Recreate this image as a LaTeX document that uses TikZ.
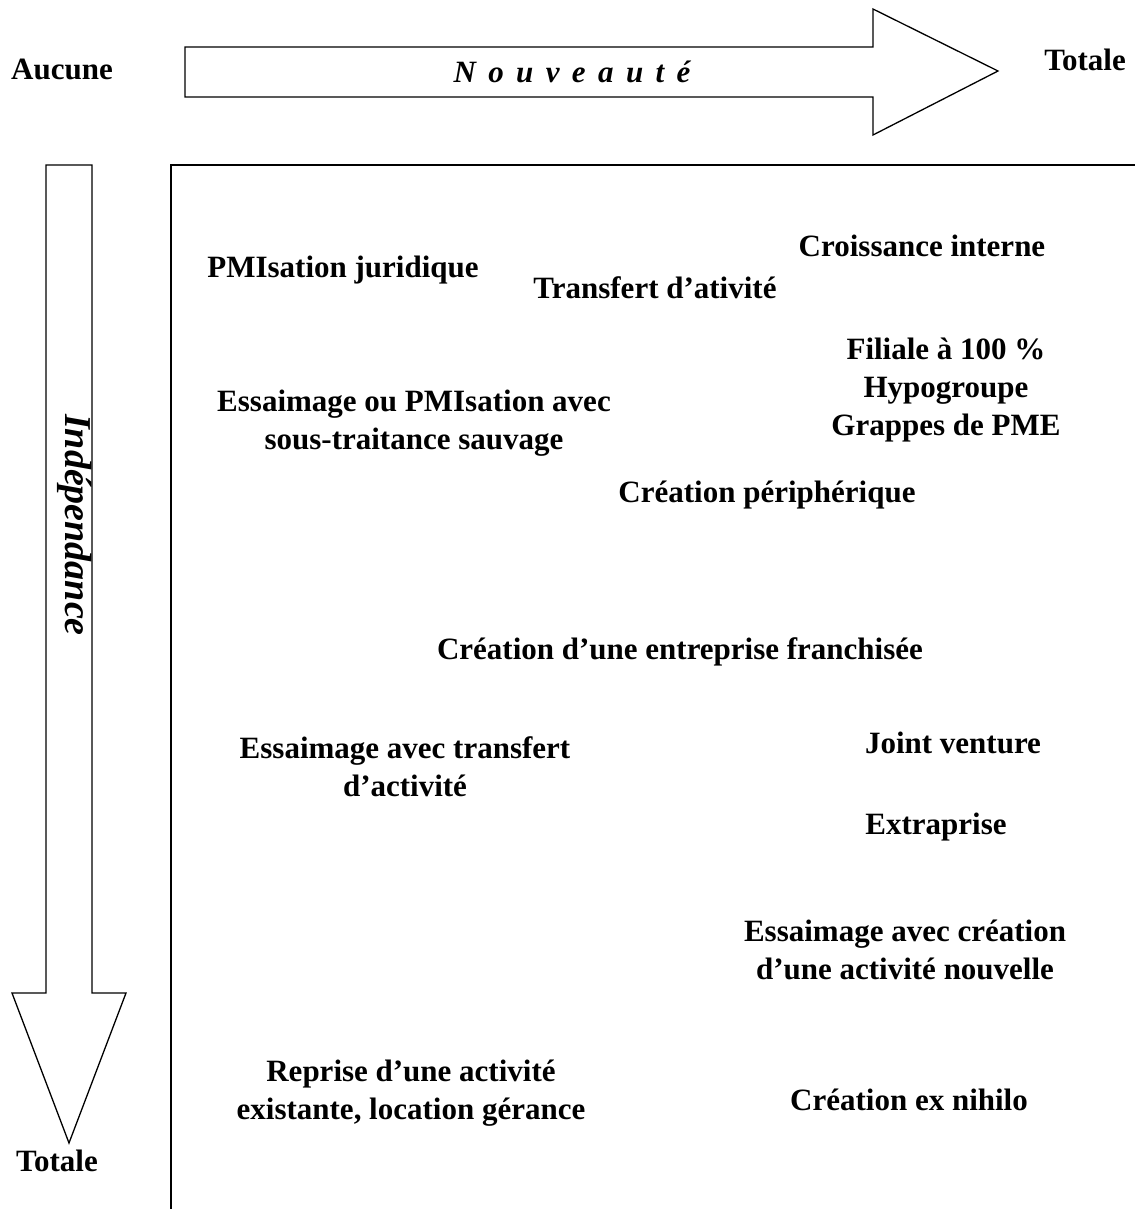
\documentclass[tikz,border=0pt]{standalone}
\usepackage{fontspec}
\setmainfont{Liberation Serif}
\usetikzlibrary{positioning}

\begin{document}
\begin{tikzpicture}[x=1pt, y=-1pt,
 lbl/.style = {font=\bfseries\fontsize{31}{38}\selectfont, align=center, inner sep=0pt},
 axlbl/.style = {font=\bfseries\itshape\fontsize{31}{38}\selectfont, inner sep=0pt},
 bigarrow/.style = {draw, line width=1.3pt, line join=miter, fill=white},
 frame/.style = {draw, line width=1.3pt},
                        ]
    \useasboundingbox (0,0) rectangle (1135,1209);

    % axis of novelty
    \draw [bigarrow] (185,47) -- (873,47) -- (873,9) -- (998,71)
          -- (873,135) -- (873,97) -- (185,97) -- cycle;
    \node [axlbl] (nouv) at (572,72) {\spaceskip 0.4em\relax N o u v e a u t é};
    \node [lbl] (aucune) at (62,69) {Aucune};
    \node [lbl] (totH) at (1085,60) {Totale};

    % axis of independence
    \draw [bigarrow] (46,165) -- (92,165) -- (92,993) -- (126,993)
          -- (69,1143) -- (12,993) -- (46,993) -- cycle;
    \node [axlbl, font=\bfseries\itshape\fontsize{38}{44}\selectfont, rotate=-90] (indep) at (75,525) {Indépendance};
    \node [lbl] (totV) at (57,1161) {Totale};

    % frame of the map
    \draw [frame] (171,1209) -- (171,165) -- (1135,165);

    % forms of creation
    \node [lbl] (pmij) at (343,270) {PMIsation juridique};
    \node [lbl] (transf) at (655,288) {Transfert d’ativité};
    \node [lbl] (crois) at (922,246) {Croissance interne};
    \node [lbl] (filiale) at (946,390) {Filiale à 100 \%\\Hypogroupe\\Grappes de PME};
    \node [lbl] (essPMI) at (414,423) {Essaimage ou PMIsation avec\\sous-traitance sauvage};
    \node [lbl] (creaper) at (767,495) {Création périphérique};
    \node [lbl] (franch) at (680,652) {Création d’une entreprise franchisée};
    \node [lbl] (esstransf) at (405,767) {Essaimage avec transfert\\d’activité};
    \node [lbl] (joint) at (953,743) {Joint venture};
    \node [lbl] (extra) at (936,827) {Extraprise};
    \node [lbl] (esscrea) at (905,950) {Essaimage avec création\\d’une activité nouvelle};
    \node [lbl] (reprise) at (411,1093) {Reprise d’une activité\\existante, location gérance};
    \node [lbl] (exnihilo) at (909,1100) {Création ex nihilo};

\end{tikzpicture}
\end{document}
